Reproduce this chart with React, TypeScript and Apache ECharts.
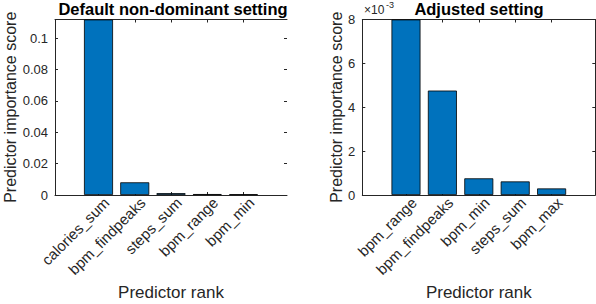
import React, { useEffect, useRef } from "react";
import * as echarts from "echarts";

const leftCategories = ["calories_sum", "bpm_findpeaks", "steps_sum", "bpm_range", "bpm_min"];
const leftValues = [0.112, 0.0081, 0.0012, 0.0006, 0.0005];
const leftTicks = [0, 0.02, 0.04, 0.06, 0.08, 0.1];

const rightCategories = ["bpm_range", "bpm_findpeaks", "bpm_min", "steps_sum", "bpm_max"];
const rightValues = [0.008, 0.00476, 0.00076, 0.00062, 0.0003];
const rightTicks = [0, 0.002, 0.004, 0.006, 0.008];

const positions = [1, 2, 3, 4, 5];
const LABEL_SHIFT = 0.22;

const FONT = "'Liberation Sans', Arial, Helvetica, sans-serif";
const INK = "#262626";
const BAR = "#0072BD";

export default function App() {
  const ref = useRef<HTMLDivElement>(null);
  useEffect(() => {
    if (!ref.current) return;
    const chart = echarts.init(ref.current, undefined, { renderer: "svg" });

    const xBottom = (gridIndex: number, cats: string[]) => ({
      type: "value",
      gridIndex,
      position: "bottom",
      min: -0.2,
      max: 6.2,
      splitLine: { show: false },
      axisLine: { show: true, onZero: false, lineStyle: { color: INK, width: 1 } },
      axisTick: { show: true, inside: true, length: 3, customValues: positions, lineStyle: { color: INK } },
      axisLabel: {
        show: true,
        customValues: positions.map((p) => p + LABEL_SHIFT),
        rotate: 45,
        margin: 5,
        color: INK,
        fontSize: 15,
        fontFamily: FONT,
        formatter: (v: number) => cats[Math.round(v - LABEL_SHIFT) - 1] ?? "",
      },
      name: "Predictor rank",
      nameLocation: "middle",
      nameGap: 84,
      nameTextStyle: { color: INK, fontSize: 17, fontFamily: FONT },
    });
    const xTop = (gridIndex: number) => ({
      type: "value",
      gridIndex,
      position: "top",
      min: -0.2,
      max: 6.2,
      splitLine: { show: false },
      axisLine: { show: true, onZero: false, lineStyle: { color: INK, width: 1 } },
      axisTick: { show: true, inside: true, length: 3, customValues: positions, lineStyle: { color: INK } },
      axisLabel: { show: false },
    });
    const yLeft = (gridIndex: number, max: number, ticks: number[], fmt: (v: number) => string, nameGap: number) => ({
      type: "value",
      gridIndex,
      position: "left",
      min: 0,
      max,
      splitLine: { show: false },
      axisLine: { show: true, onZero: false, lineStyle: { color: INK, width: 1 } },
      axisTick: { show: true, inside: true, length: 3, customValues: ticks, lineStyle: { color: INK } },
      axisLabel: { show: true, customValues: ticks, color: INK, fontSize: 13, fontFamily: FONT, margin: 7, formatter: fmt },
      name: "Predictor importance score",
      nameLocation: "middle",
      nameGap,
      nameTextStyle: { color: INK, fontSize: 16, fontFamily: FONT },
    });
    const yRight = (gridIndex: number, max: number, ticks: number[], showLine: boolean) => ({
      type: "value",
      gridIndex,
      position: "right",
      min: 0,
      max,
      splitLine: { show: false },
      axisLine: { show: showLine, onZero: false, lineStyle: { color: INK, width: 1 } },
      axisTick: { show: true, inside: true, length: 3, customValues: ticks.filter((t) => t > 0), lineStyle: { color: INK } },
      axisLabel: { show: false },
    });

    const barSeries = (axisIndex: number, values: number[]) => ({
      type: "bar",
      xAxisIndex: axisIndex,
      yAxisIndex: axisIndex,
      barWidth: 29,
      data: values.map((v, i) => [positions[i], v]),
      itemStyle: { color: BAR, borderColor: "#000", borderWidth: 0.8 },
      clip: true,
    });

    chart.setOption({
      animation: false,
      backgroundColor: "#ffffff",
      textStyle: { fontFamily: FONT },
      grid: [
        { left: 55, top: 19.5, width: 232, height: 175.5, containLabel: false, outerBoundsMode: "none" },
        { left: 362.3, top: 19.5, width: 233, height: 175.5, containLabel: false, outerBoundsMode: "none" },
      ],
      xAxis: [xBottom(0, leftCategories), xTop(0), xBottom(1, rightCategories), xTop(1)],
      yAxis: [
        yLeft(0, 0.112, leftTicks, (v: number) => (v === 0 ? "0" : String(+v.toFixed(2))), 37),
        yRight(0, 0.112, leftTicks, false),
        yLeft(1, 0.008, rightTicks, (v: number) => String(Math.round(v * 1000)), 18),
        yRight(1, 0.008, rightTicks, true),
      ],
      series: [barSeries(0, leftValues), barSeries(2, rightValues)],
      graphic: [
        {
          type: "text",
          x: 173,
          y: 9,
          style: { text: "Default non-dominant setting", font: `bold 16.5px ${FONT}`, fill: "#000", align: "center", verticalAlign: "middle" },
        },
        {
          type: "text",
          x: 479,
          y: 9,
          style: { text: "Adjusted setting", font: `bold 16.5px ${FONT}`, fill: "#000", align: "center", verticalAlign: "middle" },
        },
        {
          type: "text",
          x: 364,
          y: 10,
          style: { text: "×10", font: `12px ${FONT}`, fill: INK, align: "left", verticalAlign: "middle" },
        },
        {
          type: "text",
          x: 386,
          y: 5,
          style: { text: "-3", font: `9px ${FONT}`, fill: INK, align: "left", verticalAlign: "middle" },
        },
      ],
    });
    return () => chart.dispose();
  }, []);
  return <div ref={ref} style={{ position: "fixed", left: 0, top: 0, width: 596, height: 304 }} />;
}
